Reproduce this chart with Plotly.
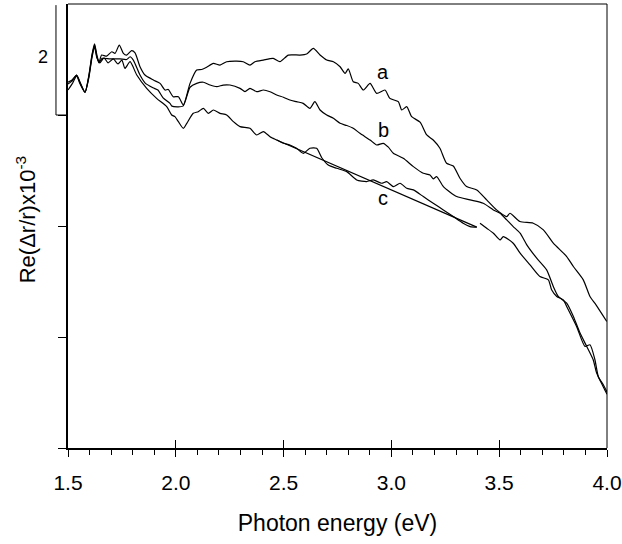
import plotly.graph_objects as go

# Photon energy (eV), Re(dr/r) x10^-3 (arbitrary offset; tick spacing = 2)
curve_a = [
    (1.500, 6.59), (1.519, 6.63), (1.540, 6.72), (1.556, 6.59), (1.579, 6.41), (1.597, 6.72),
    (1.611, 7.08), (1.623, 7.28), (1.634, 7.08), (1.644, 6.95), (1.656, 7.08), (1.679, 7.06),
    (1.703, 7.14), (1.718, 7.11), (1.738, 7.26), (1.757, 7.11), (1.772, 7.08), (1.795, 7.16),
    (1.811, 7.12), (1.834, 6.87), (1.857, 6.72), (1.896, 6.63), (1.927, 6.57), (1.950, 6.45),
    (1.965, 6.46), (1.988, 6.33), (2.012, 6.33), (2.035, 6.18), (2.066, 6.57), (2.097, 6.81),
    (2.120, 6.82), (2.143, 6.86), (2.174, 6.93), (2.205, 6.90), (2.236, 6.96), (2.282, 6.97),
    (2.313, 6.96), (2.344, 6.90), (2.367, 6.96), (2.406, 6.99), (2.452, 7.02), (2.483, 6.96),
    (2.522, 7.08), (2.576, 7.08), (2.607, 7.10), (2.638, 7.20), (2.669, 7.08), (2.700, 6.99),
    (2.731, 6.96), (2.762, 6.87), (2.785, 6.75), (2.800, 6.83), (2.823, 6.60), (2.846, 6.57),
    (2.870, 6.45), (2.901, 6.57), (2.932, 6.39), (2.970, 6.45), (2.993, 6.30), (3.032, 6.24),
    (3.048, 6.09), (3.071, 6.15), (3.094, 5.97), (3.133, 5.87), (3.164, 5.64), (3.194, 5.55),
    (3.225, 5.40), (3.256, 5.13), (3.287, 5.08), (3.318, 4.86), (3.349, 4.71), (3.396, 4.65),
    (3.442, 4.47), (3.488, 4.29), (3.535, 4.17), (3.550, 4.23), (3.596, 4.08), (3.658, 4.05),
    (3.705, 3.93), (3.751, 3.69), (3.813, 3.45), (3.844, 3.27), (3.890, 3.03), (3.921, 2.73),
    (3.949, 2.58), (3.999, 2.28),
]

curve_b = [
    (1.500, 6.56), (1.519, 6.61), (1.540, 6.72), (1.556, 6.58), (1.579, 6.41), (1.597, 6.70),
    (1.611, 7.06), (1.623, 7.26), (1.634, 7.05), (1.644, 6.94), (1.658, 7.02), (1.695, 7.01),
    (1.741, 7.01), (1.772, 7.00), (1.788, 7.05), (1.803, 6.99), (1.834, 6.72), (1.857, 6.58),
    (1.894, 6.49), (1.917, 6.45), (1.941, 6.31), (1.973, 6.21), (1.982, 6.16), (2.033, 6.16),
    (2.066, 6.50), (2.097, 6.57), (2.128, 6.59), (2.159, 6.54), (2.190, 6.51), (2.220, 6.54),
    (2.251, 6.54), (2.298, 6.48), (2.321, 6.42), (2.344, 6.48), (2.375, 6.42), (2.406, 6.45),
    (2.437, 6.42), (2.468, 6.36), (2.499, 6.32), (2.529, 6.27), (2.560, 6.24), (2.591, 6.21),
    (2.622, 6.12), (2.645, 6.24), (2.669, 6.09), (2.700, 6.00), (2.731, 5.94), (2.762, 5.85),
    (2.793, 5.81), (2.823, 5.76), (2.854, 5.67), (2.901, 5.55), (2.932, 5.46), (2.962, 5.49),
    (2.986, 5.42), (3.009, 5.31), (3.055, 5.22), (3.102, 5.07), (3.148, 4.95), (3.179, 4.92),
    (3.194, 4.85), (3.210, 4.89), (3.241, 4.71), (3.303, 4.53), (3.365, 4.47), (3.426, 4.41),
    (3.473, 4.29), (3.504, 4.23), (3.535, 4.11), (3.565, 3.99), (3.597, 3.87), (3.628, 3.66),
    (3.674, 3.42), (3.720, 3.21), (3.751, 2.91), (3.774, 2.73), (3.813, 2.61), (3.844, 2.37),
    (3.875, 2.07), (3.906, 1.83), (3.936, 1.59), (3.952, 1.35), (3.983, 1.10), (4.000, 0.97),
]

curve_c = [
    (1.500, 6.45), (1.519, 6.56), (1.540, 6.70), (1.556, 6.56), (1.579, 6.41), (1.597, 6.68),
    (1.611, 7.03), (1.623, 7.23), (1.634, 7.03), (1.648, 6.94), (1.667, 7.03), (1.686, 6.94),
    (1.710, 7.01), (1.732, 6.92), (1.750, 6.99), (1.764, 6.84), (1.788, 6.96), (1.819, 6.72),
    (1.865, 6.48), (1.911, 6.30), (1.958, 6.15), (1.981, 6.00), (1.996, 5.97), (2.012, 5.88),
    (2.035, 5.76), (2.051, 5.85), (2.081, 6.03), (2.104, 6.06), (2.128, 6.12), (2.151, 6.03),
    (2.174, 6.09), (2.205, 6.03), (2.236, 6.00), (2.267, 5.88), (2.298, 5.79), (2.344, 5.76),
    (2.375, 5.64), (2.406, 5.70), (2.437, 5.61), (2.468, 5.55), (2.499, 5.49), (2.529, 5.46),
    (2.560, 5.40), (2.591, 5.31), (2.622, 5.40), (2.653, 5.40), (2.677, 5.23), (2.707, 5.10),
    (2.746, 5.04), (2.793, 4.98), (2.839, 4.83), (2.885, 4.80), (2.916, 4.83), (2.955, 4.77),
    (2.978, 4.80), (3.009, 4.71), (3.040, 4.77), (3.071, 4.68), (3.102, 4.65), (3.148, 4.53),
    (3.194, 4.41), (3.241, 4.29), (3.287, 4.17), (3.333, 4.05), (3.365, 3.99), (3.396, 3.98),
    (None, None),
    (3.411, 4.05), (3.442, 3.96), (3.473, 3.87), (3.504, 3.75), (3.519, 3.81), (3.565, 3.69),
    (3.597, 3.51), (3.643, 3.30), (3.689, 3.09), (3.728, 3.03), (3.743, 2.85), (3.767, 2.73),
    (3.797, 2.67), (3.813, 2.55), (3.859, 2.19), (3.898, 1.83), (3.921, 1.86), (3.944, 1.59),
    (3.960, 1.28), (3.983, 1.14), (4.000, 1.01),
]

fit_line_c = [(2.468, 5.55), (3.396, 3.98)]

curve_labels = ["a", "b", "c"]
label_x = [2.962, 2.962, 2.962]
label_y = [6.78, 5.73, 4.50]

x_ticks = [1.5, 2.0, 2.5, 3.0, 3.5, 4.0]
x_tick_text = ["1.5", "2.0", "2.5", "3.0", "3.5", "4.0"]
y_ticks = [0, 2, 4, 6]
scale_bar_value = 2

FONT = "Liberation Sans, Arial, Helvetica, sans-serif"

fig = go.Figure()
for series, shape in ((curve_a, "spline"), (curve_b, "spline"), (curve_c, "spline"), (fit_line_c, "linear")):
    xs = [p[0] for p in series]
    ys = [p[1] for p in series]
    fig.add_trace(go.Scatter(x=xs, y=ys, mode="lines", connectgaps=False,
                             line=dict(color="black", width=1.2, shape=shape, smoothing=0.6),
                             showlegend=False, hoverinfo="skip"))
# empty trace so the inside-tick overlay axis is drawn
fig.add_trace(go.Scatter(x=[None], y=[None], xaxis="x2", mode="lines",
                         showlegend=False, hoverinfo="skip"))

for t, lx, ly in zip(curve_labels, label_x, label_y):
    fig.add_annotation(x=lx, y=ly, text=t, showarrow=False,
                       font=dict(family=FONT, size=20, color="black"))

# y-axis title
fig.add_annotation(xref="paper", yref="paper", x=-0.078, y=0.515, text="Re(\u0394r/r)x10<sup>-3</sup>",
                   textangle=-90, showarrow=False, xanchor="center", yanchor="middle",
                   font=dict(family=FONT, size=22, color="black"))

# scale bar "2"
bar_x = -0.0223
fig.add_shape(type="line", xref="paper", yref="y", x0=bar_x, x1=bar_x, y0=y_ticks[-1],
              y1=y_ticks[-1] + scale_bar_value - 0.02, line=dict(color="black", width=1))
fig.add_shape(type="line", xref="paper", yref="y", x0=bar_x, x1=0, y0=y_ticks[-1],
              y1=y_ticks[-1], line=dict(color="black", width=1))
fig.add_annotation(xref="paper", yref="y", x=-0.046, y=y_ticks[-1] + scale_bar_value / 2 + 0.05,
                   text=str(scale_bar_value), showarrow=False, xanchor="center", yanchor="middle",
                   font=dict(family=FONT, size=18, color="black"))

# thin top and right frame
fig.add_shape(type="line", xref="paper", yref="paper", x0=0, x1=1, y0=1, y1=1,
              line=dict(color="black", width=1))
fig.add_shape(type="line", xref="paper", yref="paper", x0=1, x1=1, y0=0, y1=1,
              line=dict(color="black", width=1))

fig.update_layout(
    width=622, height=544,
    margin=dict(l=68, r=15, t=4, b=96, autoexpand=False),
    paper_bgcolor="white", plot_bgcolor="white",
    font=dict(family=FONT, color="black"),
    xaxis=dict(range=[1.5, 4.0], tickvals=x_ticks, ticktext=x_tick_text,
               ticks="outside", ticklen=7, tickwidth=1, tickcolor="black",
               showline=True, linewidth=2, linecolor="black", showgrid=False, zeroline=False,
               tickfont=dict(family=FONT, size=21), ticklabelstandoff=8,
               minor=dict(dtick=0.1, tick0=1.5, ticks="outside", ticklen=5, tickwidth=1,
                          tickcolor="black", showgrid=False),
               title=dict(text="Photon energy (eV)", font=dict(family=FONT, size=23), standoff=22),
               automargin=False),
    xaxis2=dict(range=[1.5, 4.0], overlaying="x", anchor="y", side="bottom",
                tickvals=x_ticks, ticks="inside", ticklen=8, tickwidth=1, tickcolor="black",
                showticklabels=False, showline=False, showgrid=False, zeroline=False,
                automargin=False),
    yaxis=dict(range=[0, 8], tickvals=y_ticks, ticks="outside", ticklen=8, tickwidth=1,
               tickcolor="black", showticklabels=False, showline=True, linewidth=2,
               linecolor="black", showgrid=False, zeroline=False, automargin=False),
)

fig.write_html("out.html", config={"displayModeBar": False},
               post_script="document.body.style.margin='0';document.body.style.padding='0';")
